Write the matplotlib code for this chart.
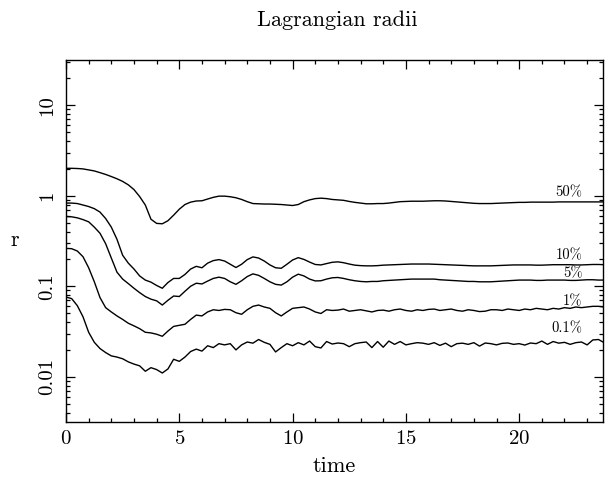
import numpy as np
import matplotlib

matplotlib.use("Agg")
import matplotlib.pyplot as plt
from matplotlib.ticker import FixedLocator, FixedFormatter, MultipleLocator, LogLocator, NullFormatter

plt.rcParams.update({
    "font.family": "cmr10",
    "mathtext.fontset": "cm",
    "axes.formatter.use_mathtext": True,
    "axes.linewidth": 1.0,
})

# time grid (step 0.25)
time = np.arange(0, 24.01, 0.25)

r50 = [2.01, 2.01, 2.0, 1.98, 1.93, 1.88, 1.80, 1.72, 1.63, 1.54, 1.44, 1.32,
       1.17, 0.98, 0.79, 0.55, 0.495, 0.49, 0.53, 0.61, 0.71, 0.80, 0.85, 0.875,
       0.88, 0.92, 0.96, 0.99, 0.99, 0.975, 0.95, 0.91, 0.86, 0.82, 0.815, 0.81,
       0.81, 0.805, 0.80, 0.79, 0.78, 0.80, 0.86, 0.90, 0.93, 0.94, 0.93, 0.91,
       0.90, 0.89, 0.865, 0.845, 0.83, 0.815, 0.815, 0.82, 0.82, 0.83, 0.845, 0.86,
       0.865, 0.87, 0.87, 0.87, 0.875, 0.88, 0.88, 0.875, 0.865, 0.855, 0.845, 0.835,
       0.825, 0.82, 0.82, 0.82, 0.825, 0.83, 0.835, 0.84, 0.845, 0.845, 0.85, 0.85,
       0.85, 0.85, 0.85, 0.855, 0.855, 0.855, 0.855, 0.855, 0.855, 0.855, 0.855, 0.855,
       0.855]

r10 = [0.83, 0.83, 0.82, 0.79, 0.76, 0.72, 0.66, 0.56, 0.45, 0.33, 0.22, 0.18,
       0.155, 0.13, 0.117, 0.111, 0.102, 0.095, 0.11, 0.122, 0.122, 0.135, 0.155, 0.166,
       0.16, 0.18, 0.192, 0.197, 0.19, 0.175, 0.161, 0.175, 0.197, 0.211, 0.205, 0.19,
       0.172, 0.16, 0.158, 0.175, 0.195, 0.207, 0.198, 0.185, 0.174, 0.172, 0.178, 0.184,
       0.186, 0.182, 0.176, 0.171, 0.169, 0.168, 0.168, 0.169, 0.171, 0.172, 0.173, 0.174,
       0.175, 0.176, 0.176, 0.176, 0.176, 0.175, 0.174, 0.173, 0.172, 0.171, 0.170, 0.169,
       0.168, 0.168, 0.168, 0.168, 0.169, 0.170, 0.171, 0.172, 0.172, 0.172, 0.172, 0.171,
       0.171, 0.172, 0.173, 0.173, 0.173, 0.173, 0.172, 0.172, 0.173, 0.174, 0.174, 0.173,
       0.173]

r5 = [0.59, 0.585, 0.57, 0.545, 0.515, 0.45, 0.385, 0.295, 0.205, 0.143, 0.12, 0.107,
      0.095, 0.085, 0.077, 0.072, 0.069, 0.062, 0.07, 0.078, 0.077, 0.088, 0.1, 0.108,
      0.106, 0.114, 0.122, 0.126, 0.122, 0.112, 0.105, 0.115, 0.128, 0.137, 0.132, 0.122,
      0.112, 0.105, 0.103, 0.112, 0.126, 0.136, 0.13, 0.12, 0.1145, 0.115, 0.12, 0.124,
      0.125, 0.122, 0.118, 0.115, 0.113, 0.112, 0.113, 0.113, 0.115, 0.116, 0.117, 0.118,
      0.119, 0.12, 0.12, 0.12, 0.12, 0.12, 0.118, 0.117, 0.116, 0.115, 0.114, 0.113,
      0.113, 0.112, 0.112, 0.112, 0.113, 0.114, 0.115, 0.116, 0.117, 0.117, 0.117, 0.116,
      0.116, 0.117, 0.117, 0.117, 0.117, 0.116, 0.116, 0.117, 0.118, 0.118, 0.117, 0.117,
      0.117]

r1 = [0.262, 0.26, 0.245, 0.212, 0.16, 0.112, 0.075, 0.058, 0.052, 0.047, 0.043, 0.039,
      0.0365, 0.034, 0.031, 0.0305, 0.0295, 0.028, 0.032, 0.036, 0.037, 0.038, 0.043, 0.048,
      0.047, 0.052, 0.055, 0.054, 0.0555, 0.055, 0.051, 0.049, 0.055, 0.06, 0.062, 0.059,
      0.057, 0.051, 0.047, 0.052, 0.057, 0.058, 0.059, 0.056, 0.052, 0.05, 0.055, 0.054,
      0.0545, 0.056, 0.053, 0.054, 0.055, 0.0535, 0.052, 0.054, 0.0545, 0.053, 0.055, 0.056,
      0.054, 0.053, 0.055, 0.054, 0.0555, 0.056, 0.054, 0.055, 0.056, 0.054, 0.053, 0.055,
      0.054, 0.0525, 0.053, 0.055, 0.055, 0.054, 0.056, 0.055, 0.054, 0.056, 0.055, 0.057,
      0.056, 0.055, 0.057, 0.056, 0.058, 0.057, 0.059, 0.058, 0.059, 0.06, 0.06, 0.059,
      0.06]

r01 = [0.076, 0.073, 0.061, 0.046, 0.031, 0.024, 0.0205, 0.0185, 0.017, 0.0165, 0.0158, 0.0146,
       0.0138, 0.0132, 0.0115, 0.0126, 0.012, 0.011, 0.0122, 0.0156, 0.0148, 0.0165, 0.019, 0.0202,
       0.0192, 0.022, 0.021, 0.0232, 0.0225, 0.0232, 0.0198, 0.0225, 0.0242, 0.0235, 0.0258, 0.024,
       0.0228, 0.0188, 0.021, 0.0232, 0.022, 0.0238, 0.0225, 0.0248, 0.0215, 0.0208, 0.0245, 0.023,
       0.0236, 0.0232, 0.0215, 0.0232, 0.0238, 0.0242, 0.021, 0.0245, 0.0212, 0.0248, 0.0228, 0.0245,
       0.0225, 0.0232, 0.0238, 0.0235, 0.0228, 0.0238, 0.0222, 0.0235, 0.0215, 0.0232, 0.0235, 0.0228,
       0.0238, 0.0218, 0.0236, 0.0232, 0.0225, 0.0234, 0.0236, 0.0228, 0.0232, 0.0224, 0.0236, 0.0232,
       0.0248, 0.0228, 0.0245, 0.0235, 0.024, 0.0228, 0.0238, 0.0242, 0.0225, 0.0255, 0.0258, 0.0238,
       0.025]

curve_labels = ["50%", "10%", "5%", "1%", "0.1%"]
label_y = [1.09, 0.217, 0.140, 0.0682, 0.034]

fig = plt.figure(figsize=(6.1, 4.91), dpi=100)
ax = fig.add_axes([66 / 610, 69 / 491, 537 / 610, 362 / 491])

for series in (r50, r10, r5, r1, r01):
    ax.plot(time, series, color="black", lw=1.0)

for text, yv in zip(curve_labels, label_y):
    ax.text(22.8, yv, text, ha="right", va="center", fontsize=10.5)

ax.set_yscale("log")
ax.set_xlim(0, 23.7)
ax.set_ylim(10 ** -2.5, 10 ** 1.5)

ax.xaxis.set_major_locator(MultipleLocator(5))
ax.xaxis.set_minor_locator(MultipleLocator(1))
ax.yaxis.set_major_locator(FixedLocator([0.01, 0.1, 1, 10]))
ax.yaxis.set_major_formatter(FixedFormatter(["0.01", "0.1", "1", "10"]))
ax.yaxis.set_minor_locator(LogLocator(base=10, subs=np.arange(2, 10)))
ax.yaxis.set_minor_formatter(NullFormatter())

ax.tick_params(which="both", direction="in", top=True, right=True)
ax.tick_params(which="major", length=6.5, width=0.9, labelsize=15)
ax.tick_params(which="minor", length=3.2, width=0.9)
ax.tick_params(axis="x", pad=6)
ax.tick_params(axis="y", pad=7)
for lab in ax.get_yticklabels():
    lab.set_rotation(90)
    lab.set_va("center")

fig.text(337 / 610, 1 - 20 / 491, "Lagrangian radii", ha="center", va="center", fontsize=16)
fig.text(334 / 610, 1 - 466 / 491, "time", ha="center", va="center", fontsize=16)
fig.text(15 / 610, 1 - 240 / 491, "r", ha="center", va="center", fontsize=16)

fig.savefig("out.png", dpi=100)
